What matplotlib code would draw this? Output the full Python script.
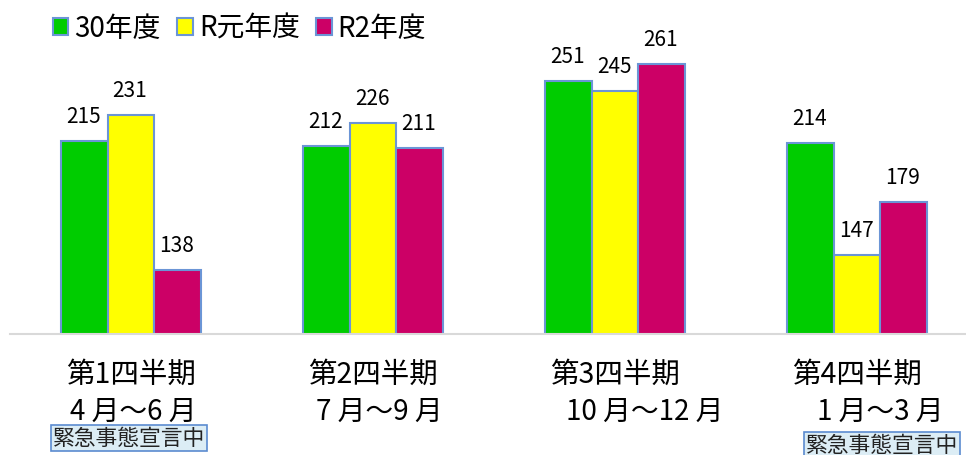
import numpy as np
import matplotlib
matplotlib.use("Agg")
import matplotlib.pyplot as plt
from matplotlib.patches import Patch

plt.rcParams['font.family'] = ['Noto Sans CJK JP', 'DejaVu Sans']

# data
quarters = ["第1四半期", "第2四半期", "第3四半期", "第4四半期"]
months = ["4 月～6 月", "7 月～9 月", "10 月～12 月", "1 月～3 月"]
series_names = ["30年度", "R元年度", "R2年度"]
h30 = [215, 212, 251, 214]
r1 = [231, 226, 245, 147]
r2 = [138, 211, 261, 179]
colors = ["#00cc00", "#ffff00", "#cc0066"]
edge = "#6b95d6"

W, H = 966, 456
fig = plt.figure(figsize=(W / 100, H / 100), dpi=100)
base_px = 335  # baseline, pixels from top
ax = fig.add_axes([10 / W, (H - base_px) / H, 956 / W, base_px / H])

x = np.arange(len(quarters))
bw = 0.193
for i, (vals, c) in enumerate(zip([h30, r1, r2], colors)):
    pos = x + (i - 1) * bw
    ax.bar(pos, vals, width=bw, bottom=0, color=c, edgecolor=edge,
           linewidth=1.5, zorder=2)
    for px_, v in zip(pos, vals):
        ax.annotate(str(v), (px_, v), xytext=(-1, 19), textcoords="offset pixels",
                    ha="center", va="baseline", fontsize=15)

ax.set_ylim(100, 300)
ax.set_xlim(-0.5, 3.45)
for s in ["top", "right", "left"]:
    ax.spines[s].set_visible(False)
ax.spines["bottom"].set_color("#d9d9d9")
ax.spines["bottom"].set_linewidth(1.5)
ax.set_xticks([])
ax.set_yticks([])


def ay(py):
    # pixel row from top -> axes fraction
    return (base_px - py) / base_px


tr = ax.get_xaxis_transform()
month_dx = [0.01, 0.025, 0.124, 0.095]
for i in range(len(quarters)):
    ax.text(x[i], ay(375), quarters[i], transform=tr, ha="center",
            va="center", fontsize=20.5, clip_on=False)
    ax.text(x[i] + month_dx[i], ay(412), months[i], transform=tr,
            ha="center", va="center", fontsize=20, clip_on=False)

box = dict(boxstyle="square,pad=0.08", facecolor="#dcedf5", edgecolor="#5b8bd0",
           linewidth=1.2)
ax.text(x[0] - 0.008, ay(439), "緊急事態宣言中", transform=tr, ha="center",
        va="center", fontsize=15.7, bbox=box, clip_on=False, color="#222222")
ax.text(x[3] + 0.103, ay(446), "緊急事態宣言中", transform=tr, ha="center",
        va="center", fontsize=15.7, bbox=box, clip_on=False, color="#222222")

handles = [Patch(facecolor=c, edgecolor=edge, linewidth=1.5) for c in colors]
fig.legend(handles, series_names, loc="center left",
           bbox_to_anchor=(53 / W, 1 - 29 / H), ncol=3, frameon=False,
           fontsize=20, handlelength=0.55, handleheight=0.55,
           handletextpad=0.22, columnspacing=0.6, borderpad=0, borderaxespad=0)

fig.savefig("out.png", dpi=100)
